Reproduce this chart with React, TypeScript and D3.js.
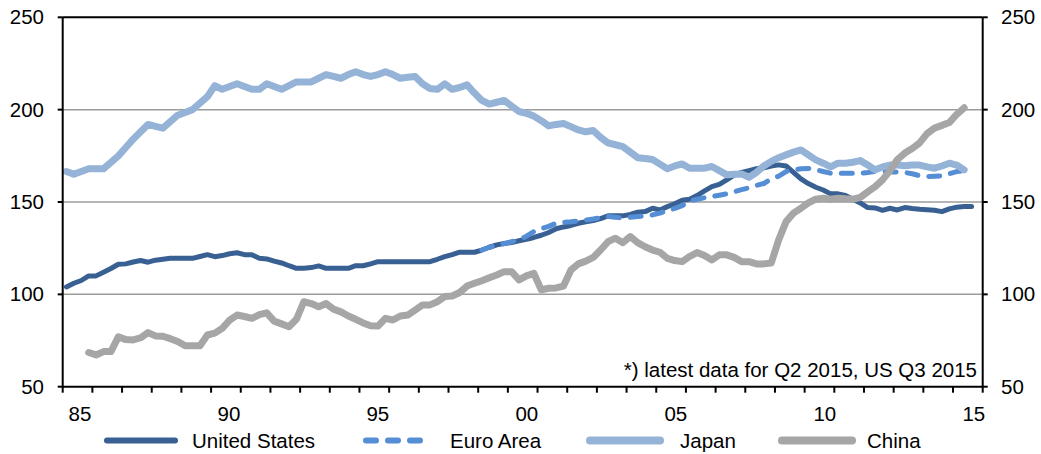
import React from "react";
import * as d3 from "d3";

// Quarterly data, first quarter = 1985 Q1
const startYear = 1985;
const usStart = 0;
const usValues = [104,106,107.5,110,110,112,114,116.3,116.5,117.5,118.3,117.4,118.5,119,119.5,119.5,119.5,119.5,120.5,121.5,120.4,121,122,122.5,121.5,121.4,119.5,119.2,118,117,115.5,114.1,114.1,114.5,115.4,114.1,114.1,114.1,114.1,115.5,115.5,116.5,117.7,117.7,117.7,117.7,117.7,117.7,117.7,117.7,119,120.4,121.5,122.8,122.8,122.8,124,125.5,126.8,127.5,128,129,129.8,130.8,132,133.5,135.5,136.5,137.3,138.5,139.3,140,141,142.5,142.5,142.5,143.3,144.5,144.8,146.6,145.7,147.5,149,151,151.5,153.5,156,158.3,159.5,162,164.5,166,167,168,168.5,169.5,170.1,169.5,166,162.5,160,158,156.5,154.4,154.4,153.5,151.5,149.5,147,146.8,145.5,146.6,145.7,147,146.5,146.1,145.8,145.5,144.8,146.3,147.2,147.5,147.5];
const euroStart = 56;
const euroValues = [124,125.5,126.5,127.5,128.5,129.5,131.5,134,135.5,136.8,138.5,139,139.3,139.7,140.2,140.8,141.5,142.1,141.8,141.3,141.7,142.1,142.5,143,144,145.3,146.5,148,150.5,151.5,152.3,153,153.7,154.4,155.5,156.7,157.7,159,160,162.5,164,166.5,167.3,168,168.2,167.5,166.5,165.6,165.6,165.6,165.6,165.6,166,166.5,166.5,166.3,166.2,166,165.3,164.2,163.8,164,164.2,165.3,166.5,167];
const japanStart = 0;
const japanValues = [166.5,165,166.5,168,168,168,171.5,175,179.5,184,188,192,191,190,193.5,197,198.5,200,203.5,207,213,211,212.5,214,212.5,211,211,214,212.5,211,213,215,215,215,217,219,218,217,219,220.5,219,218,219,220.5,219,217,217.5,218,214,211.5,211,214,211,212,213.4,209,205,203,204,205,202,199,198,196.5,194,191.2,192,192.5,190.8,189,188,188.7,185,182,181,180,177,174,173.5,173,170.5,168,169.5,170.6,168.3,168.3,168.3,169.2,167,164.7,165,165.2,163.4,166,169.5,172,174,175.5,177,178.2,175.5,172.8,171,169,171,171,171.5,172.4,170,167.4,169,170,170,169.6,170,170,169,168.3,169.5,171,170,167.4];
const chinaStart = 3;
const chinaValues = [68.5,67.2,69,69,77,75.5,75.3,76.5,79.3,77.5,77.3,76,74.5,72.2,72.2,72.2,78,79,81.6,86,88.8,88,87,89,90,85.5,84,82.5,86.5,96,95,93.3,95,92,90.5,88.3,86.5,84.5,83,82.9,87,86.1,88.3,88.8,91.5,94.3,94.3,96,98.8,99.1,101,104.5,106,107.4,109,110.5,112.3,112.3,107.8,110,111.4,102.4,103.3,103.5,104.5,113.2,116.5,118,120,124,128.5,130.4,128,131.3,128,125.8,124,122.8,119.5,118.3,117.7,120.5,122.6,121,118.6,121.4,121.4,120,117.7,117.7,116.5,116.5,117,129.5,139.4,144,146.6,149.5,151.5,152,151.5,152,151.7,151.5,152.5,155.5,158.3,162,167,173,176.5,179,182,187,190,191.5,193,197.5,201];

const yTicks = [50, 100, 150, 200, 250];
const gridValues = [100, 150, 200];
const xLabelYears = [1985, 1990, 1995, 2000, 2005, 2010, 2015];
const xLabels = ["85", "90", "95", "00", "05", "10", "15"];
const footnote = "*) latest data for Q2 2015, US Q3 2015";
const seriesNames = ["United States", "Euro Area", "Japan", "China"];

const FONT = "'Liberation Sans', Arial, sans-serif";
const FS = 20.5;

export default function App() {
  const W = 1041, H = 454;
  const left = 62.7, right = 982.7, top = 17.3, bottom = 386.7;
  const x = d3.scaleLinear().domain([1985, 2016]).range([left, right]);
  const y = d3.scaleLinear().domain([50, 250]).range([bottom, top]);
  const xLab = d3.scaleLinear().domain([1985, 2015]).range([x(1985.58), x(2015.7)]);

  const toPts = (vals: number[], start: number) =>
    vals.map((v, i) => [startYear + (start + i + 0.5) / 4, v] as [number, number]);
  const line = d3.line<[number, number]>().x(d => x(d[0])).y(d => y(d[1]));

  const series = [
    { name: seriesNames[0], pts: toPts(usValues, usStart), color: "#386092", width: 5, dash: undefined, lw: 6 },
    { name: seriesNames[1], pts: toPts(euroValues, euroStart), color: "#558ED5", width: 5, dash: "11 11", lw: 6 },
    { name: seriesNames[2], pts: toPts(japanValues, japanStart), color: "#95B3D7", width: 7, dash: undefined, lw: 8 },
    { name: seriesNames[3], pts: toPts(chinaValues, chinaStart), color: "#A6A6A6", width: 7, dash: undefined, lw: 8 },
  ];

  const yearTicks = d3.range(1985, 2017);
  const legendPos = [
    { x1: 107, x2: 175, tx: 192 },
    { x1: 366, x2: 428, tx: 450 },
    { x1: 590, x2: 660, tx: 680 },
    { x1: 782, x2: 852, tx: 867 },
  ];

  return (
    <svg width={W} height={H} style={{ position: "absolute", left: 0, top: 0, background: "#fff" }} fontFamily={FONT}>
      {gridValues.map(v => (
        <line key={v} x1={left} x2={right} y1={y(v)} y2={y(v)} stroke="#9c9c9c" strokeWidth={1.5} />
      ))}
      <line x1={left} x2={right} y1={y(250)} y2={y(250)} stroke="#000" strokeWidth={2} />
      {series.map(s => (
        <path key={s.name} d={line(s.pts) || ""} fill="none" stroke={s.color} strokeWidth={s.width}
          strokeDasharray={s.dash} strokeLinecap="round" strokeLinejoin="round" />
      ))}
      <line x1={left} x2={left} y1={top} y2={bottom} stroke="#000" strokeWidth={2} />
      <line x1={right} x2={right} y1={top} y2={bottom} stroke="#000" strokeWidth={2} />
      <line x1={left} x2={right} y1={bottom} y2={bottom} stroke="#000" strokeWidth={2} />
      {yTicks.map(v => (
        <g key={v}>
          <line x1={left - 5} x2={left} y1={y(v)} y2={y(v)} stroke="#000" strokeWidth={2} />
          <line x1={right} x2={right + 5} y1={y(v)} y2={y(v)} stroke="#000" strokeWidth={2} />
          <text x={44} y={y(v) + 7} textAnchor="end" fontSize={FS} fill="#000">{v}</text>
          <text x={1001} y={y(v) + 7} textAnchor="start" fontSize={FS} fill="#000">{v}</text>
        </g>
      ))}
      {yearTicks.map(t => (
        <line key={t} x1={x(t)} x2={x(t)} y1={bottom} y2={bottom + 6} stroke="#000" strokeWidth={2} />
      ))}
      {xLabelYears.map((t, i) => (
        <text key={t} x={xLab(t)} y={421} textAnchor="middle" fontSize={FS} fill="#000">{xLabels[i]}</text>
      ))}
      <text x={977} y={377} textAnchor="end" fontSize={FS} fill="#000">{footnote}</text>
      {series.map((s, i) => (
        <g key={s.name}>
          <line x1={legendPos[i].x1} x2={legendPos[i].x2} y1={440.5} y2={440.5} stroke={s.color}
            strokeWidth={s.lw} strokeLinecap="round" strokeDasharray={s.dash ? "10 12" : undefined} />
          <text x={legendPos[i].tx} y={448} fontSize={FS} fill="#000">{s.name}</text>
        </g>
      ))}
    </svg>
  );
}
